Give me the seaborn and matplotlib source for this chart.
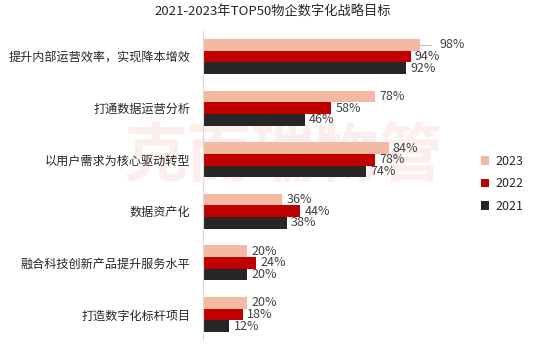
import matplotlib
matplotlib.use("Agg")
import matplotlib.pyplot as plt
import seaborn as sns
import pandas as pd

categories = ["提升内部运营效率，实现降本增效", "打通数据运营分析", "以用户需求为核心驱动转型",
              "数据资产化", "融合科技创新产品提升服务水平", "打造数字化标杆项目"]
years = ["2023", "2022", "2021"]
v2023 = [98, 78, 84, 36, 20, 20]
v2022 = [94, 58, 78, 44, 24, 18]
v2021 = [92, 46, 74, 38, 20, 12]
colors = ["#F4B9A2", "#C00000", "#262626"]

rows = []
for y, vals in zip(years, [v2023, v2022, v2021]):
    for c, v in zip(categories, vals):
        rows.append({"cat": c, "year": y, "val": v})
df = pd.DataFrame(rows)

sns.set_theme(style="white")
plt.rcParams['font.family'] = ['Noto Sans CJK SC', 'DejaVu Sans']

fig = plt.figure(figsize=(5.45, 3.51), dpi=100)
ax = fig.add_axes([0.372, 0.031, 0.406, 0.881])

ax.text(0.52, 0.553, "克而瑞物管", fontsize=46, color="#FDEEEE", ha="center", va="center",
        fontweight="bold", zorder=0, transform=fig.transFigure)

sns.barplot(data=df, y="cat", x="val", hue="year", order=categories, hue_order=years,
            palette=colors, width=0.68, ax=ax, orient="h", saturation=1, legend=True,
            linewidth=0, zorder=2)

for i, cont in enumerate(ax.containers):
    for j, (bar, w) in enumerate(zip(cont, cont.datavalues)):
        pad = 3
        yc = bar.get_y() + bar.get_height() / 2
        if i == 0 and j == 0:
            pad = 14
            ax.plot([w, w + 5], [yc, yc], color="#BFBFBF", lw=0.8, zorder=3, clip_on=False)
        ax.annotate(f"{int(round(w))}%", xy=(w, yc),
                    xytext=(pad, 0), textcoords="offset points", ha="left", va="center",
                    fontsize=9, color="#404040", annotation_clip=False)

ax.set_xlim(0, 100)
ax.set_ylim(5.5, -0.5)
ax.set_xlabel("")
ax.set_ylabel("")
ax.set_xticks([])
ax.tick_params(axis="y", length=0, labelsize=8.7, labelcolor="#262626", pad=9)
for s in ["top", "right", "bottom"]:
    ax.spines[s].set_visible(False)
ax.spines["left"].set_color("#D9D9D9")
ax.spines["left"].set_linewidth(0.8)
ax.patch.set_alpha(0)

fig.text(0.5, 0.965, "2021-2023年TOP50物企数字化战略目标", fontsize=9.5, color="#262626",
         ha="center", va="center")

leg = ax.legend(loc="center left", bbox_to_anchor=(1.205, 0.505), frameon=False, fontsize=9,
                handlelength=0.7, handleheight=0.7, labelspacing=0.75, handletextpad=0.5)
for t in leg.get_texts():
    t.set_color("#262626")

fig.savefig("out.png", dpi=100)
